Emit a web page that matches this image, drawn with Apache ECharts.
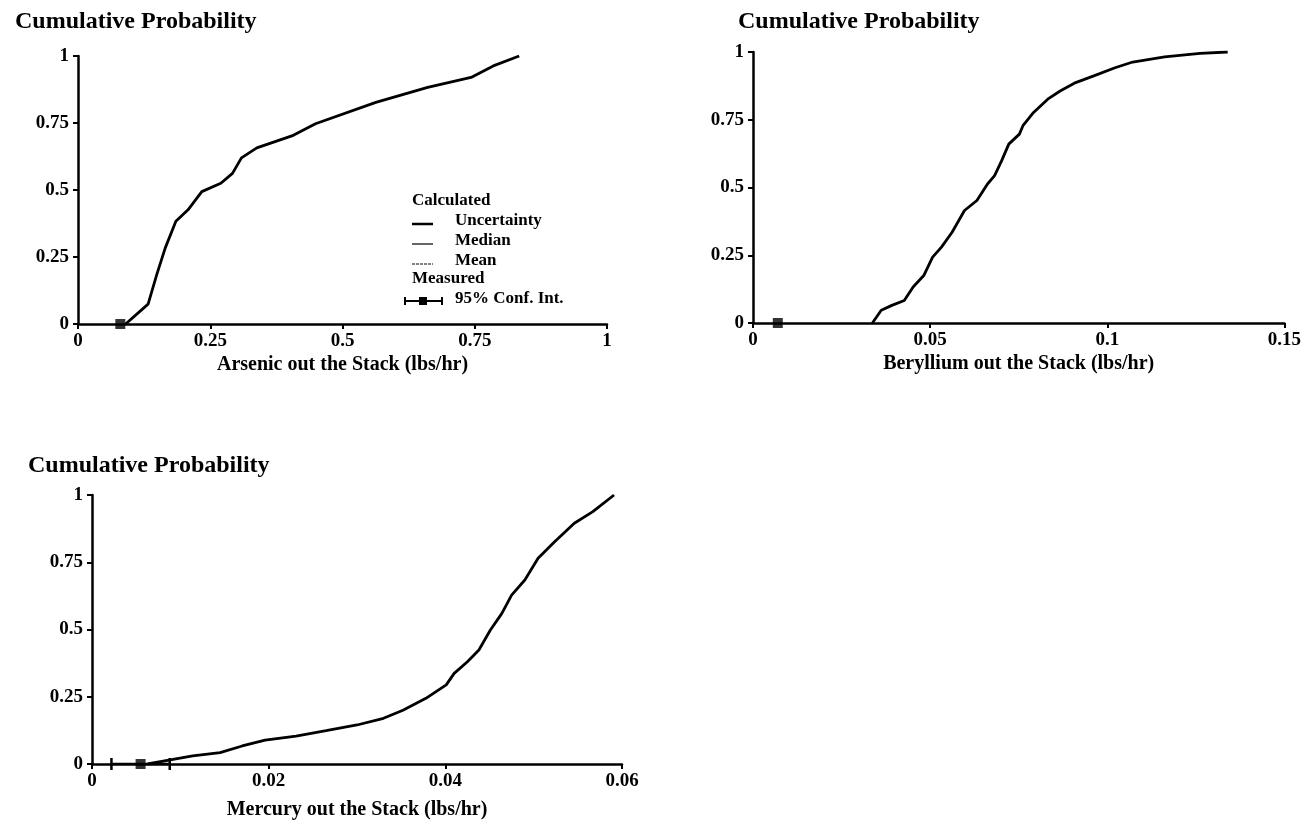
<!DOCTYPE html>
<html>
<head>
<meta charset="utf-8">
<script src="https://cdn.jsdelivr.net/npm/echarts@6/dist/echarts.min.js"></script>
<style>
  html, body { margin: 0; padding: 0; background: #fff; }
  #chart { width: 1304px; height: 830px; }
</style>
</head>
<body>
<div id="chart"></div>
<script>
// Arsenic
const arsenicX = [0.09, 0.1325, 0.149, 0.165, 0.185, 0.208, 0.234, 0.27, 0.292, 0.309, 0.338, 0.407, 0.449, 0.563, 0.661, 0.743, 0.785, 0.834];
const arsenicP = [0, 0.074, 0.185, 0.284, 0.383, 0.426, 0.494, 0.525, 0.562, 0.62, 0.657, 0.704, 0.747, 0.827, 0.883, 0.92, 0.963, 1];
const arsenicMeasured = 0.08;

// Beryllium
const berylliumX = [0.0337, 0.0362, 0.0392, 0.0427, 0.0452, 0.0482, 0.0507, 0.0532, 0.0562, 0.0597, 0.0632, 0.0662, 0.0682, 0.0702, 0.0722, 0.0752, 0.0762, 0.0792, 0.0832, 0.0867, 0.0907, 0.0962, 0.1022, 0.1072, 0.1162, 0.1262, 0.134];
const berylliumP = [0, 0.047, 0.065, 0.083, 0.133, 0.175, 0.243, 0.28, 0.335, 0.415, 0.452, 0.513, 0.544, 0.599, 0.66, 0.697, 0.728, 0.777, 0.826, 0.856, 0.885, 0.912, 0.942, 0.963, 0.982, 0.995, 1];
const berylliumMeasured = 0.007;

// Mercury
const mercuryX = [0.0063, 0.00885, 0.0114, 0.0145, 0.017, 0.0196, 0.0231, 0.0265, 0.03, 0.033, 0.0352, 0.0378, 0.0401, 0.041, 0.0425, 0.0438, 0.0451, 0.0464, 0.0475, 0.049, 0.0505, 0.0524, 0.0546, 0.0567, 0.0591];
const mercuryP = [0, 0.015, 0.03, 0.042, 0.067, 0.089, 0.104, 0.124, 0.145, 0.17, 0.2, 0.244, 0.294, 0.337, 0.38, 0.424, 0.498, 0.56, 0.628, 0.684, 0.765, 0.827, 0.895, 0.938, 1];
const mercuryMeasured = 0.0055;
const mercuryCI = [0.0022, 0.0088];

const xNames = ['Arsenic out the Stack (lbs/hr)', 'Beryllium out the Stack (lbs/hr)', 'Mercury out the Stack (lbs/hr)'];
const xMax = [1, 0.15, 0.06];
const xStep = [0.25, 0.05, 0.02];
const nameGaps = [31, 31, 36];

const font = "'Liberation Serif', 'Times New Roman', serif";
const pairs = (xs, ys) => xs.map((x, i) => [x, ys[i]]);

const grids = [
  { left: 78, top: 56, width: 529, height: 268 },
  { left: 753, top: 52, width: 534, height: 271 },
  { left: 92, top: 495, width: 530, height: 269 }
];

const axisLine = { lineStyle: { color: '#000', width: 2.5 } };
const axisTick = { length: 5, lineStyle: { color: '#000', width: 2 } };
const tickLabel = { color: '#000', fontFamily: font, fontWeight: 'bold', fontSize: 19 };

const xAxis = grids.map((g, i) => ({
  type: 'value', gridIndex: i, min: 0, max: xMax[i], interval: xStep[i],
  name: xNames[i], nameLocation: 'middle', nameGap: nameGaps[i],
  nameTextStyle: { color: '#000', fontFamily: font, fontWeight: 'bold', fontSize: 20 },
  splitLine: { show: false }, axisLine, axisTick,
  axisLabel: Object.assign({ margin: 8 }, tickLabel)
}));
const yAxis = grids.map((g, i) => ({
  type: 'value', gridIndex: i, min: 0, max: 1, interval: 0.25,
  splitLine: { show: false }, axisLine, axisTick,
  axisLabel: Object.assign({ margin: 9 }, tickLabel)
}));

const curve = (i, data) => ({
  type: 'line', xAxisIndex: i, yAxisIndex: i, data, showSymbol: false, z: 3,
  lineStyle: { color: '#000', width: 2.8 }
});
const measured = (i, x) => ({
  type: 'scatter', xAxisIndex: i, yAxisIndex: i, data: [[x, 0]],
  symbol: 'rect', symbolSize: 10, itemStyle: { color: '#000' }, z: 4
});

const series = [
  curve(0, pairs(arsenicX, arsenicP)), measured(0, arsenicMeasured),
  curve(1, pairs(berylliumX, berylliumP)), measured(1, berylliumMeasured),
  curve(2, pairs(mercuryX, mercuryP)), measured(2, mercuryMeasured),
  {
    type: 'line', xAxisIndex: 2, yAxisIndex: 2,
    data: mercuryCI.map(x => [x, 0]),
    symbol: 'rect', symbolSize: [2.5, 12], itemStyle: { color: '#000' },
    lineStyle: { color: '#000', width: 2.5 }
  }
];

const titleStyle = { color: '#000', fontFamily: font, fontWeight: 'bold', fontSize: 24 };
const title = [
  { text: 'Cumulative Probability', left: 10, top: 5, textStyle: titleStyle },
  { text: 'Cumulative Probability', left: 733, top: 5, textStyle: titleStyle },
  { text: 'Cumulative Probability', left: 23, top: 449, textStyle: titleStyle }
];

// legend drawn by hand in the first panel
const legFont = { fill: '#000', fontFamily: font, fontWeight: 'bold', fontSize: 17, textVerticalAlign: 'middle' };
const legText = (t, x, y) => ({ type: 'text', left: x, top: y - 10, style: Object.assign({ text: t }, legFont) });
const legLine = (y, w, dash) => ({
  type: 'line', shape: { x1: 412, y1: y, x2: 433, y2: y },
  style: { stroke: '#000', lineWidth: w, lineDash: dash }
});
const graphic = [
  legText('Calculated', 412, 202),
  legLine(224, 2.5), legText('Uncertainty', 455, 222),
  legLine(244, 1.2), legText('Median', 455, 242),
  legLine(264, 1.2, [3, 1]), legText('Mean', 455, 262),
  legText('Measured', 412, 280),
  { type: 'line', shape: { x1: 405, y1: 301, x2: 442, y2: 301 }, style: { stroke: '#000', lineWidth: 2 } },
  { type: 'line', shape: { x1: 405, y1: 297, x2: 405, y2: 305 }, style: { stroke: '#000', lineWidth: 2 } },
  { type: 'line', shape: { x1: 442, y1: 297, x2: 442, y2: 305 }, style: { stroke: '#000', lineWidth: 2 } },
  { type: 'rect', shape: { x: 419, y: 297, width: 8, height: 8 }, style: { fill: '#000' } },
  legText('95% Conf. Int.', 455, 300)
];

const chart = echarts.init(document.getElementById('chart'));
chart.setOption({
  animation: false,
  backgroundColor: '#fff',
  title, grid: grids, xAxis, yAxis, series, graphic
});
</script>
</body>
</html>
